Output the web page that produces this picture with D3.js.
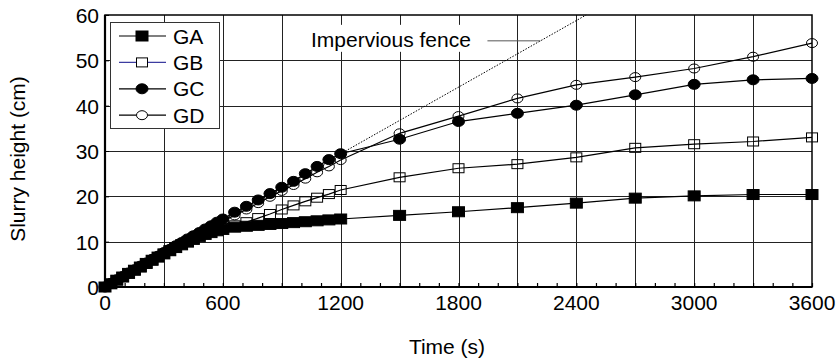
<!DOCTYPE html>
<html>
<head>
<meta charset="utf-8">
<script src="https://cdn.jsdelivr.net/npm/d3@7"></script>
<style>
  body { margin: 0; background: #fff; }
  svg { display: block; font-family: "Liberation Sans", Arial, sans-serif; }
</style>
</head>
<body>
<div id="main"></div>
<script>
// time points (s)
const times = [0, 30, 60, 90, 120, 150, 180, 210, 240, 270, 300,
    330, 360, 390, 420, 450, 480, 510, 540, 570, 600,
    660, 720, 780, 840, 900, 960, 1020, 1080, 1140, 1200,
    1500, 1800, 2100, 2400, 2700, 3000, 3300, 3600];

// slurry height (cm)
const gaValues = [0, 0.7, 1.5, 2.2, 3.0, 3.7, 4.4, 5.2, 5.9, 6.6, 7.3,
    8.0, 8.7, 9.3, 9.9, 10.5, 11.1, 11.6, 12.0, 12.4, 12.7,
    13.2, 13.4, 13.6, 13.8, 14.0, 14.2, 14.4, 14.6, 14.8, 15.0,
    15.8, 16.6, 17.5, 18.5, 19.6, 20.1, 20.4, 20.4];
const gbValues = [0, 0.7, 1.5, 2.2, 3.0, 3.7, 4.4, 5.2, 5.9, 6.6, 7.3,
    8.0, 8.7, 9.4, 10.0, 10.7, 11.3, 11.9, 12.4, 12.8, 13.0,
    13.6, 14.3, 15.2, 16.1, 17.1, 18.0, 18.9, 19.7, 20.5, 21.4,
    24.2, 26.2, 27.1, 28.6, 30.7, 31.5, 32.1, 33.0];
const gcValues = [0, 0.8, 1.6, 2.3, 3.1, 3.8, 4.6, 5.3, 6.1, 6.8, 7.6,
    8.3, 9.1, 9.8, 10.6, 11.3, 12.0, 12.8, 13.5, 14.3, 15.0,
    16.5, 17.8, 19.2, 20.6, 22.0, 23.3, 25.0, 26.6, 28.1, 29.4,
    32.6, 36.5, 38.3, 40.1, 42.4, 44.7, 45.7, 46.0];
const gdValues = [0, 0.8, 1.5, 2.3, 3.0, 3.8, 4.5, 5.3, 6.0, 6.8, 7.5,
    8.2, 9.0, 9.7, 10.4, 11.1, 11.8, 12.5, 13.2, 13.9, 14.5,
    15.8, 17.1, 18.5, 19.9, 21.2, 22.5, 23.9, 25.3, 26.6, 28.0,
    33.9, 37.7, 41.6, 44.6, 46.3, 48.2, 50.8, 53.8];

// impervious fence reference line
const fenceTimes = [0, 2450];
const fenceValues = [0, 60];

const seriesNames = ['GA', 'GB', 'GC', 'GD'];
const xTicks = [0, 600, 1200, 1800, 2400, 3000, 3600];
const yTicks = [0, 10, 20, 30, 40, 50, 60];

const width = 840;
const height = 362;
const plotLeft = 105, plotRight = 812, plotTop = 15, plotBottom = 287;

const svg = d3.select('#main').append('svg')
    .attr('width', width)
    .attr('height', height);

const x = d3.scaleLinear().domain([0, 3600]).range([plotLeft, plotRight]);
const y = d3.scaleLinear().domain([0, 60]).range([plotBottom, plotTop]);

// grid
const grid = svg.append('g').attr('stroke', '#222').attr('stroke-width', 1);
grid.selectAll('line.v')
    .data(d3.range(300, 3600, 300))
    .enter().append('line')
    .attr('x1', d => Math.round(x(d)) + 0.5).attr('x2', d => Math.round(x(d)) + 0.5)
    .attr('y1', plotTop).attr('y2', plotBottom);
grid.selectAll('line.h')
    .data(yTicks.slice(1, -1))
    .enter().append('line')
    .attr('y1', d => Math.round(y(d)) + 0.5).attr('y2', d => Math.round(y(d)) + 0.5)
    .attr('x1', plotLeft).attr('x2', plotRight);

// axes with inward ticks
svg.append('g')
    .attr('transform', `translate(0, ${plotBottom})`)
    .call(d3.axisTop(x).tickValues(d3.range(0, 3601, 100)).tickSize(4).tickFormat(''))
    .call(g => g.select('.domain').remove())
    .call(g => g.selectAll('line').attr('stroke-width', 1.2));
svg.append('g')
    .attr('transform', `translate(${plotLeft}, 0)`)
    .call(d3.axisRight(y).tickValues(yTicks).tickSize(4).tickFormat(''))
    .call(g => g.select('.domain').remove());

svg.append('g')
    .selectAll('text')
    .data(xTicks)
    .enter().append('text')
    .attr('x', d => x(d))
    .attr('y', plotBottom + 23)
    .attr('text-anchor', 'middle')
    .attr('font-size', 21)
    .text(d => d);
svg.append('g')
    .selectAll('text')
    .data(yTicks)
    .enter().append('text')
    .attr('x', plotLeft - 6)
    .attr('y', d => y(d) + 8)
    .attr('text-anchor', 'end')
    .attr('font-size', 21)
    .text(d => d);

// frame
svg.append('rect')
    .attr('x', plotLeft).attr('y', plotTop)
    .attr('width', plotRight - plotLeft).attr('height', plotBottom - plotTop)
    .attr('fill', 'none').attr('stroke', '#000').attr('stroke-width', 1.5);
svg.append('line').attr('x1', plotLeft).attr('x2', plotLeft).attr('y1', plotTop).attr('y2', plotBottom + 1)
    .attr('stroke', '#000').attr('stroke-width', 2.2);
svg.append('line').attr('x1', plotLeft).attr('x2', plotRight).attr('y1', plotBottom).attr('y2', plotBottom)
    .attr('stroke', '#000').attr('stroke-width', 2.2);

// axis titles
svg.append('text')
    .attr('x', 447).attr('y', 354)
    .attr('text-anchor', 'middle')
    .attr('font-size', 21)
    .text('Time (s)');
svg.append('text')
    .attr('transform', `translate(25, 159) rotate(-90)`)
    .attr('text-anchor', 'middle')
    .attr('font-size', 21)
    .text('Slurry height (cm)');

// fence line
const line = d3.line().x(d => x(d[0])).y(d => y(d[1]));
svg.append('path')
    .attr('d', line(d3.zip(fenceTimes, fenceValues)))
    .attr('fill', 'none')
    .attr('stroke', '#000')
    .attr('stroke-width', 1)
    .attr('stroke-dasharray', '1.5,1.5');

// fence annotation
const leaderY = 54.3;
const leaderEnd = x(fenceTimes[1] * leaderY / fenceValues[1]);
const label = svg.append('g');
label.append('rect')
    .attr('x', 309).attr('y', y(leaderY) - 16)
    .attr('width', 172).attr('height', 27)
    .attr('fill', '#fff');
label.append('text')
    .attr('x', 311).attr('y', y(leaderY) + 6)
    .attr('font-size', 21)
    .text('Impervious fence');
label.append('line')
    .attr('x1', leaderEnd - 53).attr('x2', leaderEnd)
    .attr('y1', y(leaderY)).attr('y2', y(leaderY))
    .attr('stroke', '#555').attr('stroke-width', 1);

// series
const series = [
    { name: seriesNames[0], values: gaValues, shape: 'square', filled: true },
    { name: seriesNames[1], values: gbValues, shape: 'square', filled: false },
    { name: seriesNames[2], values: gcValues, shape: 'circle', filled: true },
    { name: seriesNames[3], values: gdValues, shape: 'circle', filled: false }
];

function drawMarker(g, shape, filled, cx, cy, fillOpen) {
    if (shape === 'square') {
        const w = filled ? 12 : 11, h = filled ? 10 : 9;
        g.append('rect')
            .attr('x', cx - w / 2).attr('y', cy - h / 2)
            .attr('width', w).attr('height', h)
            .attr('fill', filled ? '#000' : fillOpen)
            .attr('stroke', '#000').attr('stroke-width', 1);
    } else {
        g.append('ellipse')
            .attr('cx', cx).attr('cy', cy)
            .attr('rx', filled ? 6 : 5.5).attr('ry', filled ? 5 : 4.5)
            .attr('fill', filled ? '#000' : fillOpen)
            .attr('stroke', '#000').attr('stroke-width', 1);
    }
}

const plot = svg.append('g');
series.slice().reverse().forEach(s => {
    const pts = d3.zip(times, s.values);
    const g = plot.append('g');
    g.append('path')
        .attr('d', line(pts))
        .attr('fill', 'none')
        .attr('stroke', '#000')
        .attr('stroke-width', 1.2);
    pts.forEach(p => drawMarker(g, s.shape, s.filled, x(p[0]), y(p[1]), 'none'));
});

// legend
const legend = svg.append('g');
legend.append('rect')
    .attr('x', 110.5).attr('y', 22.5)
    .attr('width', 109).attr('height', 106)
    .attr('fill', '#fff').attr('stroke', '#333').attr('stroke-width', 1);
series.forEach((s, i) => {
    const cy = 36 + i * 26.4;
    const row = legend.append('g');
    row.append('line')
        .attr('x1', 119).attr('x2', 166)
        .attr('y1', cy).attr('y2', cy)
        .attr('stroke', s.name === 'GB' ? '#3c3ca0' : '#000')
        .attr('stroke-width', 1.2);
    drawMarker(row, s.shape, s.filled, 142, cy, '#fff');
    row.append('text')
        .attr('x', 173).attr('y', cy + 7.5)
        .attr('font-size', 21)
        .text(s.name);
});
</script>
</body>
</html>
